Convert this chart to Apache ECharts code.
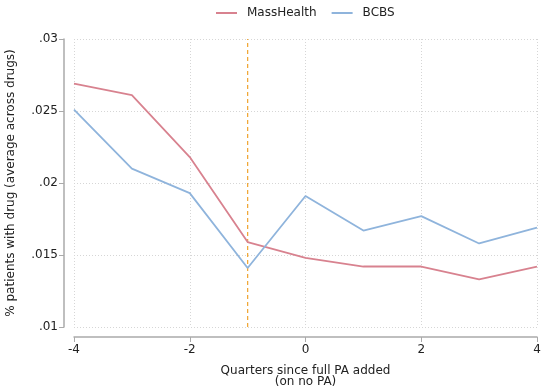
<!DOCTYPE html>
<html><head><meta charset="utf-8">
<script src="https://cdn.jsdelivr.net/npm/echarts@6/dist/echarts.min.js"></script>
<style>html,body{margin:0;padding:0;background:#fff}#c{width:542px;height:387px}</style>
</head><body><div id="c"></div>
<script>
const quarters = [-4, -3, -2, -1, 0, 1, 2, 3, 4];
const massHealth = [0.0269, 0.0261, 0.0218, 0.0159, 0.0148, 0.0142, 0.0142, 0.0133, 0.0142];
const bcbs = [0.0251, 0.0210, 0.0193, 0.0141, 0.0191, 0.0167, 0.0177, 0.0158, 0.0169];
const yTickLabels = {0.01: '.01', 0.015: '.015', 0.02: '.02', 0.025: '.025', 0.03: '.03'};
const eventQuarter = -1;
const yMin = 0.01, yMax = 0.03;

const chart = echarts.init(document.getElementById('c'));
const font = 'DejaVu Sans';
chart.setOption({
  animation: false,
  textStyle: {fontFamily: font},
  legend: {
    top: 2, left: 211, itemWidth: 21, itemHeight: 2, itemGap: 15,
    icon: 'rect',
    textStyle: {fontFamily: font, fontSize: 12, color: '#222', padding: [0, 0, 0, 5]},
    data: ['MassHealth', 'BCBS']
  },
  grid: {left: 74, right: 5, top: 39, bottom: 60, containLabel: false, outerBoundsMode: 'none'},
  xAxis: {
    type: 'value', min: -4, max: 4, interval: 2, offset: 10,
    name: 'Quarters since full PA added\n(on no PA)',
    nameLocation: 'middle', nameGap: 28,
    nameTextStyle: {fontFamily: font, fontSize: 12, color: '#222', lineHeight: 11.5, verticalAlign: 'top'},
    axisLine: {show: true, onZero: false, lineStyle: {color: '#aaa', width: 1.5}},
    axisTick: {show: true, length: 5, lineStyle: {color: '#aaa'}},
    axisLabel: {fontFamily: font, fontSize: 12, color: '#222', margin: 7},
    splitLine: {show: true, lineStyle: {color: '#d6d6d6', type: [1, 2], width: 1}}
  },
  yAxis: {
    type: 'value', min: yMin, max: yMax, interval: 0.005, offset: 10,
    name: '% patients with drug (average across drugs)',
    nameLocation: 'middle', nameGap: 47, nameRotate: 90,
    nameTextStyle: {fontFamily: font, fontSize: 12, color: '#222'},
    axisLine: {show: true, onZero: false, lineStyle: {color: '#aaa', width: 1.5}},
    axisTick: {show: true, length: 5, lineStyle: {color: '#aaa'}},
    axisLabel: {fontFamily: font, fontSize: 12, color: '#222', margin: 6,
      formatter: v => yTickLabels[Math.round(v * 1000) / 1000] || ''},
    splitLine: {show: true, lineStyle: {color: '#d6d6d6', type: [1, 2], width: 1}}
  },
  series: [
    {
      name: 'event', type: 'line', showSymbol: false, symbol: 'none', silent: true,
      data: [[eventQuarter, yMin], [eventQuarter, yMax]],
      lineStyle: {color: '#f0a838', type: [4, 3], width: 1.3}, itemStyle: {color: '#f0a838'},
      z: 1
    },
    {
      name: 'MassHealth', type: 'line', showSymbol: false, symbol: 'none',
      data: quarters.map((q, i) => [q, massHealth[i]]),
      lineStyle: {color: '#d8828f', width: 1.8}, itemStyle: {color: '#d8828f'}
    },
    {
      name: 'BCBS', type: 'line', showSymbol: false, symbol: 'none',
      data: quarters.map((q, i) => [q, bcbs[i]]),
      lineStyle: {color: '#8fb4dc', width: 1.8}, itemStyle: {color: '#8fb4dc'}
    }
  ]
});
</script></body></html>
